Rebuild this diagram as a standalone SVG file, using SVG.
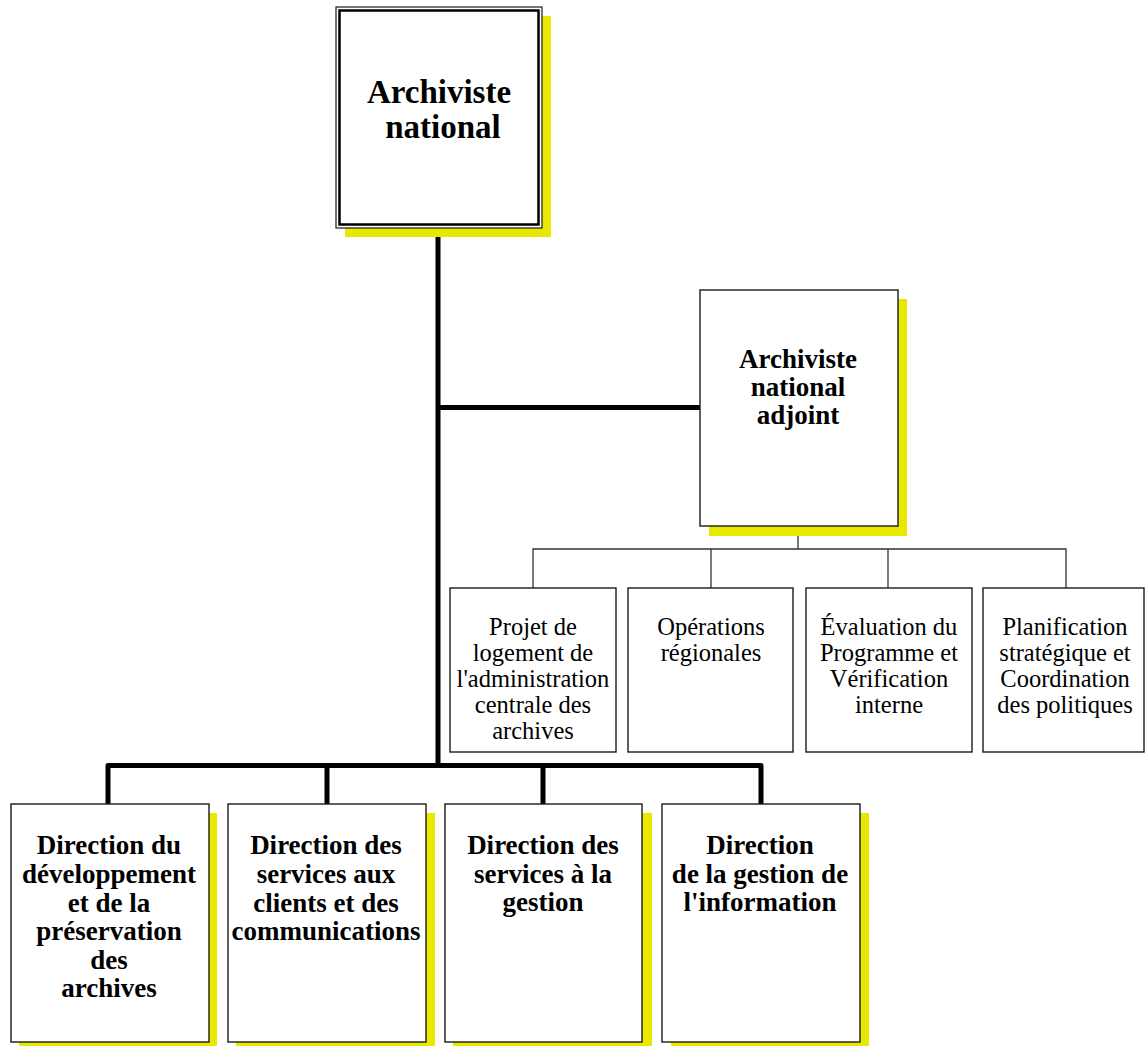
<svg xmlns="http://www.w3.org/2000/svg" width="1145" height="1046" viewBox="0 0 1145 1046">
<style>
.shadow{fill:#e8e800}
.box{fill:#fff;stroke:#1a1a1a;stroke-width:1.4}
.thick{fill:none;stroke:#000;stroke-width:5;stroke-linejoin:round}
.thin{fill:none;stroke:#333;stroke-width:1.3}
text{font-family:"Liberation Serif","Times New Roman",serif;text-anchor:middle;fill:#000}
.b{font-weight:bold}
.t1{font-size:33px}
.t2{font-size:27px}
.t3{font-size:27px}
.t4{font-size:24.5px}
</style>
<rect width="1145" height="1046" fill="#fff"/>
<g id="connectors">
<path class="thick" d="M438,228 V765.5"/>
<path class="thick" d="M438,407.5 H700"/>
<path class="thick" d="M108,804 V765.5 H761 V804"/>
<path class="thick" d="M327,765.5 V804"/>
<path class="thick" d="M543,765.5 V804"/>
<path class="thin" d="M798,526 V549"/>
<path class="thin" d="M533,588 V549 H1066 V588"/>
<path class="thin" d="M711,549 V588"/>
<path class="thin" d="M888,549 V588"/>
</g>
<g id="archiviste-national">
<rect class="shadow" x="345" y="16" width="206" height="221"/>
<rect x="336" y="7" width="206" height="221" fill="#fff" stroke="#1a1a1a" stroke-width="1.2"/>
<rect x="339.5" y="10.5" width="199" height="214" fill="none" stroke="#000" stroke-width="2.5"/>
<text class="b t1" x="439" y="103">Archiviste</text>
<text class="b t1" x="443" y="138">national</text>
</g>
<g id="archiviste-adjoint">
<rect class="shadow" x="709" y="299" width="198" height="237"/>
<rect class="box" x="700" y="290" width="198" height="236"/>
<text class="b t2" x="798" y="368">Archiviste</text>
<text class="b t2" x="798" y="396">national</text>
<text class="b t2" x="798" y="424">adjoint</text>
</g>
<g id="projet-logement">
<rect class="box" x="450" y="588" width="166" height="164"/>
<text class="t4" x="533" y="635">Projet de</text>
<text class="t4" x="533" y="661">logement de</text>
<text class="t4" x="533" y="687">l'administration</text>
<text class="t4" x="533" y="713">centrale des</text>
<text class="t4" x="533" y="739">archives</text>
</g>
<g id="operations-regionales">
<rect class="box" x="628" y="588" width="165" height="164"/>
<text class="t4" x="711" y="635">Opérations</text>
<text class="t4" x="711" y="661">régionales</text>
</g>
<g id="evaluation">
<rect class="box" x="806" y="588" width="166" height="164"/>
<text class="t4" x="889" y="635">Évaluation du</text>
<text class="t4" x="889" y="661">Programme et</text>
<text class="t4" x="889" y="687">Vérification</text>
<text class="t4" x="889" y="713">interne</text>
</g>
<g id="planification">
<rect class="box" x="983" y="588" width="161" height="164"/>
<text class="t4" x="1065" y="635">Planification</text>
<text class="t4" x="1065" y="661">stratégique et</text>
<text class="t4" x="1065" y="687">Coordination</text>
<text class="t4" x="1065" y="713">des politiques</text>
</g>
<g id="direction-developpement">
<rect class="shadow" x="19" y="813" width="198" height="238"/>
<rect class="box" x="11" y="804" width="198" height="238"/>
<text class="b t3" x="109" y="854">Direction du</text>
<text class="b t3" x="109" y="883">développement</text>
<text class="b t3" x="109" y="912">et de la</text>
<text class="b t3" x="109" y="940">préservation</text>
<text class="b t3" x="109" y="969">des</text>
<text class="b t3" x="109" y="997">archives</text>
</g>
<g id="direction-services-clients">
<rect class="shadow" x="236" y="813" width="199" height="238"/>
<rect class="box" x="228" y="804" width="198" height="238"/>
<text class="b t3" x="326" y="854">Direction des</text>
<text class="b t3" x="326" y="883">services aux</text>
<text class="b t3" x="326" y="912">clients et des</text>
<text class="b t3" x="326" y="940">communications</text>
</g>
<g id="direction-services-gestion">
<rect class="shadow" x="453" y="813" width="199" height="238"/>
<rect class="box" x="445" y="804" width="197" height="238"/>
<text class="b t3" x="543" y="854">Direction des</text>
<text class="b t3" x="543" y="883">services à la</text>
<text class="b t3" x="543" y="911">gestion</text>
</g>
<g id="direction-gestion-information">
<rect class="shadow" x="671" y="813" width="198" height="238"/>
<rect class="box" x="662" y="804" width="198" height="238"/>
<text class="b t3" x="760" y="854">Direction</text>
<text class="b t3" x="760" y="883">de la gestion de</text>
<text class="b t3" x="760" y="911">l'information</text>
</g>
</svg>
